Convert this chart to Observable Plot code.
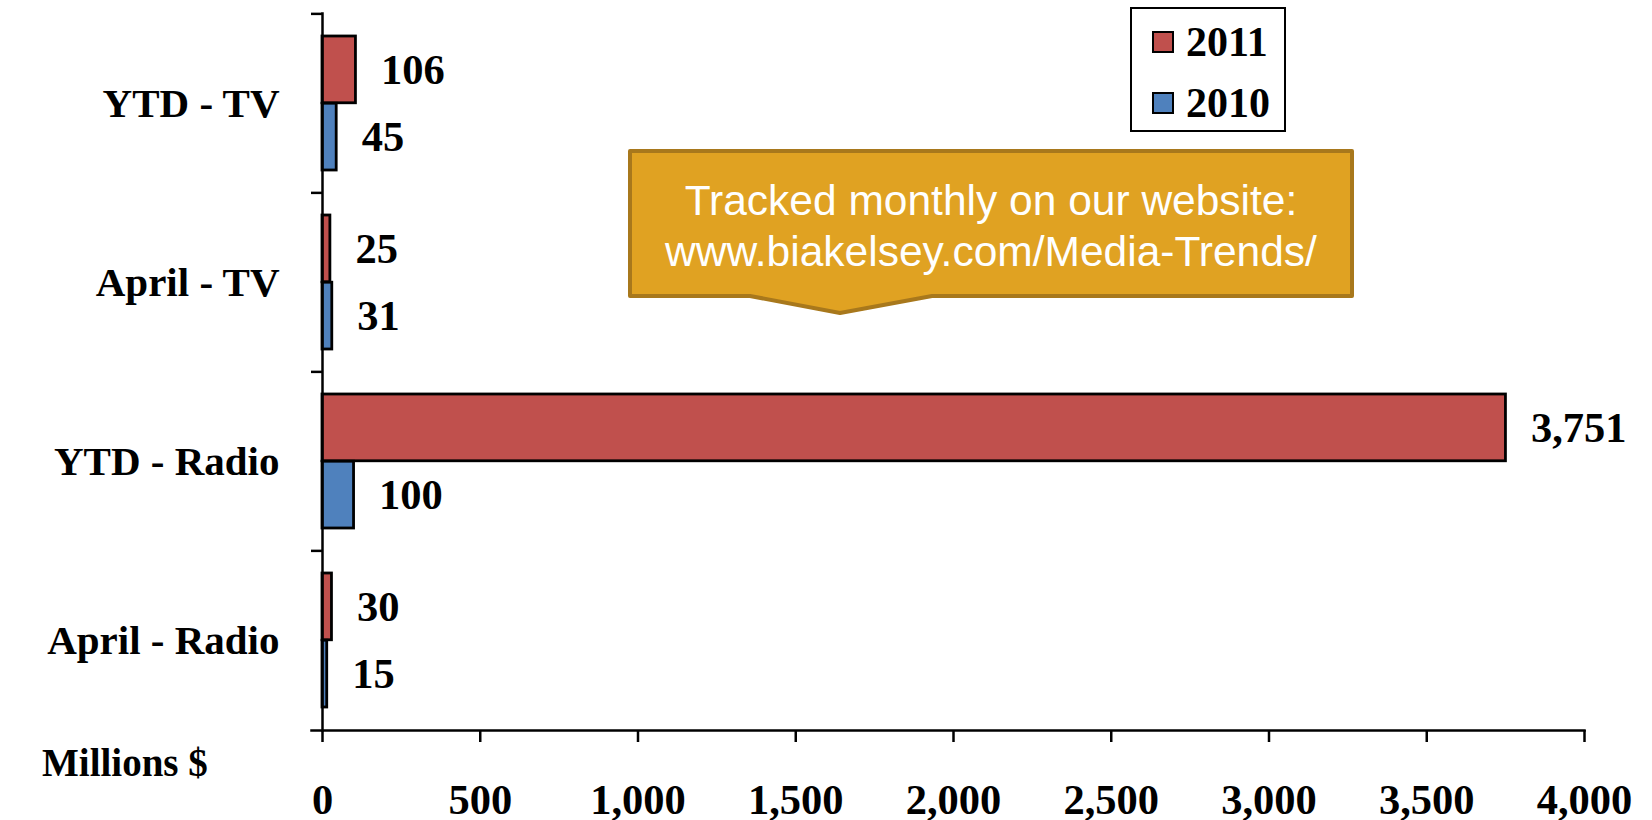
<!DOCTYPE html>
<html>
<head>
<meta charset="utf-8">
<script src="https://cdn.jsdelivr.net/npm/d3@7"></script>
<script src="https://cdn.jsdelivr.net/npm/@observablehq/plot@0.6"></script>
<style>
  html, body { margin: 0; padding: 0; background: #fff; }
  #wrap { position: relative; width: 1652px; height: 820px; }
  #legend {
    position: absolute; left: 1130px; top: 7px; width: 152px; height: 121px;
    border: 2.5px solid #000; background: #fff; box-sizing: content-box;
    font-family: "Liberation Serif", "Times New Roman", serif; font-weight: bold; font-size: 42px;
  }
  #legend .row { position: absolute; left: 20px; display: flex; align-items: center; }
  #legend .sw { width: 18px; height: 18px; border: 2px solid #000; margin-right: 12px; }
  #millions {
    position: absolute; left: 42px; top: 740px;
    font-family: "Liberation Serif", "Times New Roman", serif; font-weight: bold; font-size: 39px;
  }
</style>
</head>
<body>
<div id="wrap"></div>
<script>
// ---- data ----
const categories = ["YTD - TV", "April - TV", "YTD - Radio", "April - Radio"];
const seriesNames = ["2011", "2010"];
const values2011 = [106, 25, 3751, 30];
const values2010 = [45, 31, 100, 15];
const xTickValues = [0, 500, 1000, 1500, 2000, 2500, 3000, 3500, 4000];
const seriesColors = ["#C0504D", "#4F81BD"];
const axisLabel = "Millions $";
const calloutLines = ["Tracked monthly on our website:", "www.biakelsey.com/Media-Trends/"];

const rows2011 = categories.map((c, i) => ({cat: c, year: "2011", value: values2011[i]}));
const rows2010 = categories.map((c, i) => ({cat: c, year: "2010", value: values2010[i]}));

// ---- layout ----
const W = 1652, H = 820;
const mL = 322, mR = 68, mT = 13, mB = 90;
const padInner = 0.25, padOuter = 0.125;
const step = (H - mT - mB) / (categories.length - padInner + 2 * padOuter);
const bw = step * (1 - padInner);
const half = bw / 2;
const serif = "'Liberation Serif', 'Times New Roman', serif";
const fmt = d3.format(",");

const chart = Plot.plot({
  width: W, height: H,
  marginLeft: mL, marginRight: mR, marginTop: mT, marginBottom: mB,
  style: {fontFamily: serif, fontWeight: "bold", fontSize: "41px", color: "#000", background: "#fff", overflow: "visible"},
  x: {domain: [0, 4000]},
  y: {domain: categories, paddingInner: padInner, paddingOuter: padOuter},
  color: {domain: seriesNames, range: seriesColors},
  marks: [
    Plot.barX(rows2011, {x: "value", y: "cat", fill: "year", stroke: "#000", strokeWidth: 2.8, insetBottom: half}),
    Plot.barX(rows2010, {x: "value", y: "cat", fill: "year", stroke: "#000", strokeWidth: 2.8, insetTop: half}),
    Plot.text(rows2011, {x: "value", y: "cat", text: d => fmt(d.value), dx: 25, dy: -half / 2, textAnchor: "start", fontSize: 42.5, fontWeight: "bold"}),
    Plot.text(rows2010, {x: "value", y: "cat", text: d => fmt(d.value), dx: 25, dy: half / 2, textAnchor: "start", fontSize: 42.5, fontWeight: "bold"}),
    Plot.frame({anchor: "left", strokeWidth: 2.5}),
    Plot.frame({anchor: "bottom", strokeWidth: 2.5, insetLeft: -11}),
    Plot.axisX({ticks: xTickValues, tickFormat: fmt, tickSize: 12, tickPadding: 41, strokeWidth: 2.5, fontSize: 42.5, label: null}),
    Plot.axisY({tickSize: 11, text: null, dy: -step / 2, strokeWidth: 2.5, label: null}),
    Plot.axisY({tickSize: 0, tickPadding: 43, fontSize: 41, label: null})
  ]
});

const wrap = document.getElementById("wrap");
wrap.appendChild(chart);

// ---- callout annotation ----
const svg = d3.select(chart);
const cx0 = 630, cx1 = 1352, cy0 = 151, cy1 = 296, tipX = 840, tipY = 313, b0 = 750, b1 = 932;
svg.append("path")
  .attr("d", `M${cx0},${cy0}H${cx1}V${cy1}H${b1}L${tipX},${tipY}L${b0},${cy1}H${cx0}Z`)
  .attr("fill", "#E0A222").attr("stroke", "#A8781C").attr("stroke-width", 4).attr("stroke-linejoin", "round");
const ct = svg.append("text")
  .attr("font-family", "'Liberation Sans', Arial, sans-serif").attr("font-weight", "normal")
  .attr("font-size", 42.5).attr("fill", "#fff").attr("text-anchor", "middle");
calloutLines.forEach((line, i) => {
  ct.append("tspan").attr("x", (cx0 + cx1) / 2).attr("y", 215 + i * 51).text(line);
});

// ---- legend ----
const color = chart.scale("color");
const legend = document.createElement("div");
legend.id = "legend";
seriesNames.forEach((name, i) => {
  const row = document.createElement("div");
  row.className = "row";
  row.style.top = (9 + i * 61) + "px";
  const sw = document.createElement("div");
  sw.className = "sw";
  sw.style.background = color.apply(name);
  const lab = document.createElement("span");
  lab.textContent = name;
  row.appendChild(sw); row.appendChild(lab);
  legend.appendChild(row);
});
wrap.appendChild(legend);

const ml = document.createElement("div");
ml.id = "millions";
ml.textContent = axisLabel;
wrap.appendChild(ml);
</script>
</body>
</html>
